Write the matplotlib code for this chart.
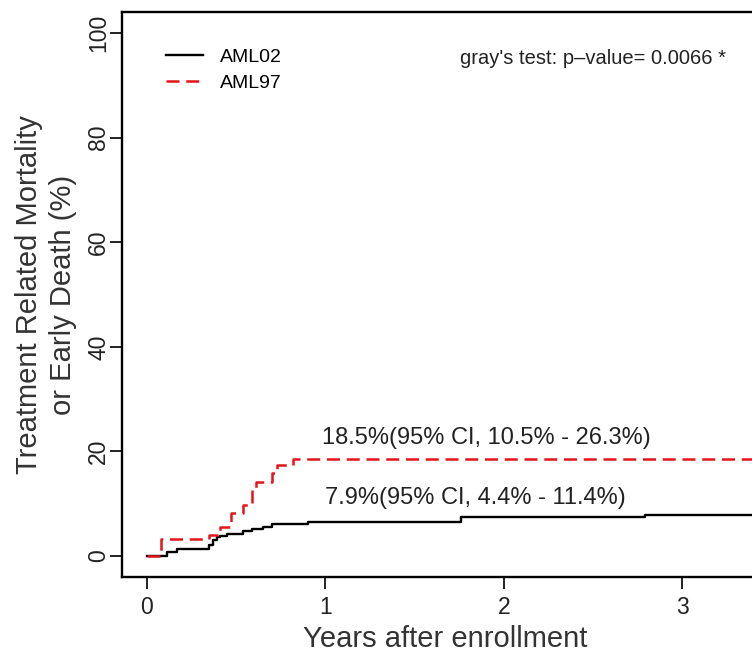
import matplotlib
matplotlib.use("Agg")
import matplotlib.pyplot as plt

plt.rcParams['font.family'] = ['Liberation Sans', 'DejaVu Sans']

# AML02 (solid black) step data: years, cumulative incidence (%)
aml02_t = [0, 0.11, 0.17, 0.35, 0.37, 0.39, 0.41, 0.45, 0.54, 0.59, 0.65, 0.70, 0.90, 1.76, 2.79, 3.7]
aml02_y = [0, 0.7, 1.4, 2.1, 3.0, 3.7, 3.9, 4.2, 4.8, 5.2, 5.6, 6.1, 6.6, 7.4, 7.9, 7.9]
# AML97 (dashed red) step data
aml97_t = [0, 0.08, 0.35, 0.41, 0.47, 0.54, 0.59, 0.61, 0.70, 0.73, 0.82, 3.7]
aml97_y = [0, 3.3, 4.0, 5.6, 8.2, 9.8, 12.6, 14.2, 15.8, 17.4, 18.5, 18.5]

xticks = [0, 1, 2, 3]
yticks = [0, 20, 40, 60, 80, 100]

fig = plt.figure(figsize=(7.52, 6.56), dpi=100)
ax = fig.add_axes([122/752, 1-577/656, (800-122)/752, (577-12)/656])

ax.step(aml02_t, aml02_y, where='post', color='black', lw=1.7, label='AML02')
ax.step(aml97_t, aml97_y, where='post', color='#e3141b', lw=1.8, ls=(0, (5.2, 2.7)), label='AML97')

ax.set_xlim(-0.14, (800-147)/178.5)
ax.set_ylim(-4, 104)
ax.set_xticks(xticks)
ax.set_yticks(yticks)
ax.tick_params(axis='both', labelsize=16.5, length=8.5, width=1.4, direction='out', colors='#222222')
ax.tick_params(axis='x', pad=5)
ax.tick_params(axis='y', pad=0)
for lab in ax.get_yticklabels():
    lab.set_rotation(90)
    lab.set_va('center')
for s in ax.spines.values():
    s.set_linewidth(1.7)

ax.set_xlabel('Years after enrollment', fontsize=21, color='#333333', labelpad=6)
ax.xaxis.set_label_coords((445-122)/(800-122), -0.085)
ax.set_ylabel('Treatment Related Mortality\nor Early Death (%)', fontsize=21, color='#333333',
              linespacing=1.3, labelpad=7)

ax.text(0.98, 20.5, '18.5%(95% CI, 10.5% - 26.3%)', fontsize=17, ha='left', va='bottom', color='#222222')
ax.text(1.0, 9.0, '7.9%(95% CI, 4.4% - 11.4%)', fontsize=17, ha='left', va='bottom', color='#222222')
ax.text(1.753, 95.2, "gray's test: p\u2013value= 0.0066 *", fontsize=14.5, ha='left', va='center', color='#222222')

leg = ax.legend(loc='upper left', bbox_to_anchor=(0.053, 0.95), frameon=False, fontsize=14,
                handlelength=1.9, handletextpad=0.9, labelspacing=0.45, borderaxespad=0)

fig.savefig('out.png', dpi=100)
